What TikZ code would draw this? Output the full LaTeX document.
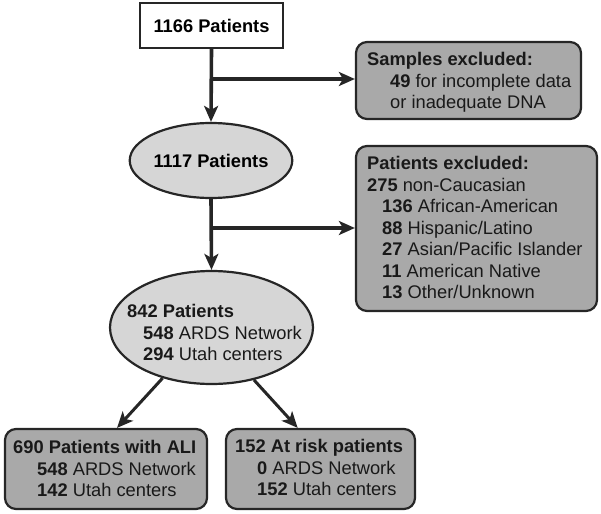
\documentclass[tikz,border=0pt]{standalone}
\usepackage{fontspec}
\setmainfont{Liberation Sans}
\usetikzlibrary{arrows.meta,shapes.geometric}
\definecolor{boxgray}{HTML}{A9A9A9}
\definecolor{elgray}{HTML}{D6D6D6}
\definecolor{ln}{HTML}{262626}
\begin{document}
\begin{tikzpicture}[x=1pt,y=-1pt,
  font=\fontsize{18.3}{21.5}\selectfont,
  bx/.style={draw=ln, line width=2.2pt, fill=boxgray, rounded corners=11pt, inner sep=0pt},
  el/.style={ellipse, draw=ln, line width=2.2pt, fill=elgray, inner sep=0pt},
  txt/.style={anchor=north west, inner sep=0pt, align=left, text=black!90},
  arr/.style={draw=ln, line width=3.6pt, -{Stealth[length=16pt,width=14pt,inset=4pt]}},
  conn/.style={draw=ln, line width=3.6pt}
]
\useasboundingbox (0,0) rectangle (601,513);

% nodes
\node[draw=ln, line width=2.2pt, fill=white, minimum width=143pt, minimum height=45pt, inner sep=0pt] (top) at (211.5,25.5) {\textbf{1166 Patients}};

\node[bx, minimum width=225pt, minimum height=77pt] (samples) at (468.5,80.5) {};
\node[txt] (tsamples) at (367,52.4) {\textbf{Samples excluded:}\\\hspace*{23pt}\textbf{49} for incomplete data\\\hspace*{23pt}or inadequate DNA};

\node[el, minimum width=131pt, minimum height=75pt] (e1117) at (211,160.5) {\textbf{1117 Patients}};

\node[bx, minimum width=241pt, minimum height=165pt] (patients) at (476.5,228.5) {};
\node[txt] (tpatients) at (367,156.4) {\textbf{Patients excluded:}\\\textbf{275} non-Caucasian\\\hspace*{15pt}\textbf{136} African-American\\\hspace*{15pt}\textbf{88} Hispanic/Latino\\\hspace*{15pt}\textbf{27} Asian/Pacific Islander\\\hspace*{15pt}\textbf{11} American Native\\\hspace*{15pt}\textbf{13} Other/Unknown};

\node[el, minimum width=203pt, minimum height=113pt] (e842) at (211.5,327.5) {};
\node[txt] (t842) at (127,304.4) {\textbf{842 Patients}\\\hspace*{16pt}\textbf{548} ARDS Network\\\hspace*{16pt}\textbf{294} Utah centers};

\node[bx, minimum width=202pt, minimum height=80pt] (ali) at (106,469) {};
\node[txt] (tali) at (13,440.4) {\textbf{690 Patients with ALI}\\\hspace*{24pt}\textbf{548} ARDS Network\\\hspace*{24pt}\textbf{142} Utah centers};

\node[bx, minimum width=189pt, minimum height=80pt] (risk) at (320.5,469) {};
\node[txt] (trisk) at (235,439.4) {\textbf{152 At risk patients}\\\hspace*{22pt}\textbf{0} ARDS Network\\\hspace*{22pt}\textbf{152} Utah centers};

% connectors
\draw[arr] (top.south) -- (e1117.north);
\coordinate (b1) at (211.5,79);
\draw[arr] (b1) -- (b1 -| samples.west);
\draw[arr] (e1117.south) -- (e842.north);
\coordinate (b2) at (211.5,228);
\draw[arr] (b2) -- (b2 -| patients.west);
\draw[arr, line width=3pt] (e842.226) -- (ali.75);
\draw[arr, line width=3pt] (e842.309) -- (risk.119);
\end{tikzpicture}
\end{document}
